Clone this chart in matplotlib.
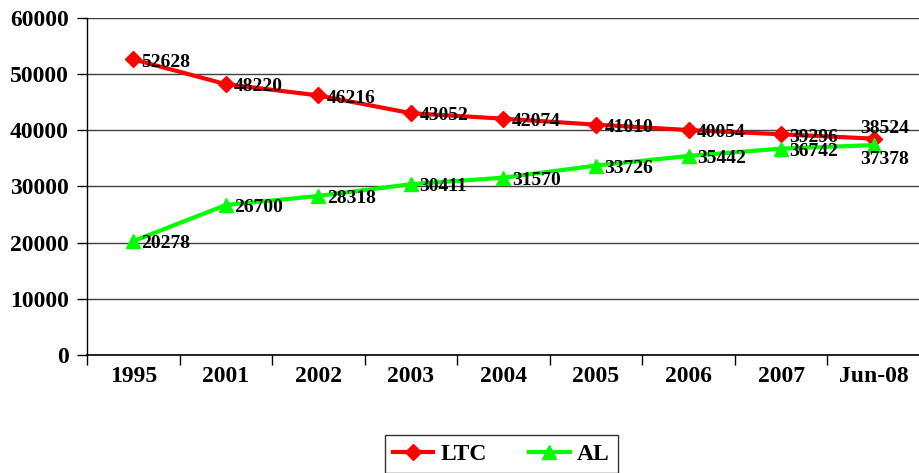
import matplotlib
matplotlib.use("Agg")
import matplotlib.pyplot as plt
import numpy as np

# data
categories = ['1995', '2001', '2002', '2003', '2004', '2005', '2006', '2007', 'Jun-08']
ltc = [52628, 48220, 46216, 43052, 42074, 41010, 40054, 39296, 38524]
al = [20278, 26700, 28318, 30411, 31570, 33726, 35442, 36742, 37378]

plt.rcParams['font.family'] = ['Liberation Serif', 'DejaVu Serif']
plt.rcParams['font.weight'] = 'bold'

fig = plt.figure(figsize=(9.2, 4.73), dpi=100)
ax = fig.add_axes([87/920, 1-355/473, 1-87/920, 337/473])

x = np.arange(len(categories))
ax.plot(x, ltc, color='#ff0000', lw=3, marker='D', ms=8, label='LTC', zorder=3)
ax.plot(x, al, color='#00ff00', lw=3, marker='^', ms=10, label='AL', zorder=3)

ax.set_xlim(-0.5, len(categories) - 0.5)
ax.set_ylim(0, 60000)
ax.set_yticks(np.arange(0, 60001, 10000))
ax.yaxis.grid(True, color='#404040', lw=1)
ax.set_axisbelow(True)

# category boundaries get the tick marks, labels sit in the middle
ax.set_xticks(np.arange(-0.5, len(categories), 1.0))
ax.set_xticklabels([])
ax.set_xticks(x, minor=True)
ax.set_xticklabels(categories, minor=True, fontsize=17, fontweight='bold')
ax.tick_params(axis='x', which='major', direction='out', length=7, width=1)
ax.tick_params(axis='x', which='minor', length=0, pad=8)
ax.tick_params(axis='y', direction='out', length=7, width=1, labelsize=17, pad=6)
for lbl in ax.get_yticklabels():
    lbl.set_fontweight('bold')

for s in ['top', 'right']:
    ax.spines[s].set_visible(False)
ax.spines['left'].set_linewidth(1)
ax.spines['bottom'].set_linewidth(1.2)

# value labels
last = len(categories) - 1
for i in range(len(categories)):
    if i == last:
        ax.annotate(str(ltc[i]), (x[i], ltc[i]), xytext=(8, 1), textcoords='offset points',
                    ha='center', va='bottom', fontsize=14, fontweight='bold')
        ax.annotate(str(al[i]), (x[i], al[i]), xytext=(8, -4), textcoords='offset points',
                    ha='center', va='top', fontsize=14, fontweight='bold')
    else:
        ax.annotate(str(ltc[i]), (x[i], ltc[i]), xytext=(6, -2), textcoords='offset points',
                    ha='left', va='center', fontsize=14, fontweight='bold')
        ax.annotate(str(al[i]), (x[i], al[i]), xytext=(6, -2), textcoords='offset points',
                    ha='left', va='center', fontsize=14, fontweight='bold')

leg = fig.legend(loc='upper left', bbox_to_anchor=(385/920, 1-435/473), ncol=2,
                 frameon=True, fancybox=False, fontsize=17, handlelength=1.7,
                 columnspacing=1.8, handletextpad=0.3, borderpad=0.35,
                 borderaxespad=0)
leg.get_frame().set_edgecolor('black')
leg.get_frame().set_linewidth(1)
for t in leg.get_texts():
    t.set_fontweight('bold')

fig.savefig('out.png', dpi=100)
